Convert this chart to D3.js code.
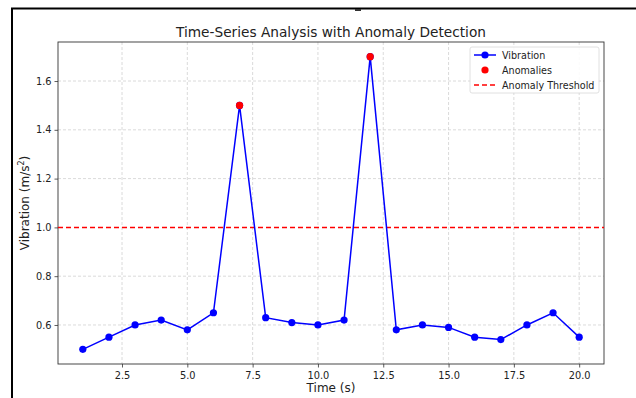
<!DOCTYPE html>
<html>
<head>
<meta charset="utf-8">
<script src="https://cdn.jsdelivr.net/npm/d3@7"></script>
<style>
  body { margin: 0; background: #fff; }
  svg { display: block; font-family: "DejaVu Sans", sans-serif; }
</style>
</head>
<body>
<svg id="chart" width="636" height="398"></svg>
<script>
// data
const times = [1, 2, 3, 4, 5, 6, 7, 8, 9, 10, 11, 12, 13, 14, 15, 16, 17, 18, 19, 20];
const vibration = [0.50, 0.55, 0.60, 0.62, 0.58, 0.65, 1.50, 0.63, 0.61, 0.60, 0.62, 1.70, 0.58, 0.60, 0.59, 0.55, 0.54, 0.60, 0.65, 0.55];
const threshold = 1.0;
const xTicks = [2.5, 5.0, 7.5, 10.0, 12.5, 15.0, 17.5, 20.0];
const yTicks = [0.6, 0.8, 1.0, 1.2, 1.4, 1.6];
const legendLabels = ['Vibration', 'Anomalies', 'Anomaly Threshold'];

const points = times.map((t, i) => ({ t, v: vibration[i] }));
const anomalies = points.filter(d => d.v > threshold);

const svg = d3.select('#chart');
const margin = { top: 42, right: 32, bottom: 34, left: 58 };
const W = 636, H = 398;

// outer frame (cropped figure edge)
svg.append('path')
  .attr('d', `M12,${H} L12,8.5 L${W},8.5`)
  .attr('fill', 'none')
  .attr('stroke', '#000')
  .attr('stroke-width', 2);
svg.append('rect').attr('x', 355).attr('y', 9).attr('width', 6).attr('height', 2).attr('fill', '#333');

const x = d3.scaleLinear().domain([0.05, 20.95]).range([margin.left, W - margin.right]);
const y = d3.scaleLinear().domain([0.44, 1.76]).range([H - margin.bottom, margin.top]);

// grid (no line under the threshold)
const grid = svg.append('g').attr('stroke', '#d0d0d0').attr('stroke-width', 0.8).attr('stroke-dasharray', '3,2');
grid.selectAll('.gx').data(xTicks).join('line')
  .attr('x1', d => x(d)).attr('x2', d => x(d))
  .attr('y1', margin.top).attr('y2', H - margin.bottom);
grid.selectAll('.gy').data(yTicks.filter(d => d !== threshold)).join('line')
  .attr('x1', margin.left).attr('x2', W - margin.right)
  .attr('y1', d => y(d)).attr('y2', d => y(d));

// axes
const xAxis = svg.append('g')
  .attr('transform', `translate(0,${H - margin.bottom})`)
  .call(d3.axisBottom(x).tickValues(xTicks).tickFormat(d3.format('.1f')).tickSize(3.5).tickSizeOuter(0));
const yAxis = svg.append('g')
  .attr('transform', `translate(${margin.left},0)`)
  .call(d3.axisLeft(y).tickValues(yTicks).tickFormat(d3.format('.1f')).tickSize(3.5).tickSizeOuter(0));
[xAxis, yAxis].forEach(a => {
  a.select('.domain').remove();
  a.selectAll('.tick line').attr('stroke', '#333').attr('stroke-width', 0.8);
  a.selectAll('.tick text').attr('font-size', 9.8).attr('fill', '#222').attr('font-family', '"DejaVu Sans", sans-serif');
});
xAxis.selectAll('.tick text').attr('dy', '0.85em');

// frame of plot area
svg.append('rect')
  .attr('x', margin.left).attr('y', margin.top)
  .attr('width', W - margin.right - margin.left)
  .attr('height', H - margin.bottom - margin.top)
  .attr('fill', 'none').attr('stroke', '#333').attr('stroke-width', 0.9);

// threshold
const ty = Math.round(y(threshold)) + 0.5;
svg.append('line')
  .attr('x1', margin.left).attr('x2', W - margin.right)
  .attr('y1', ty).attr('y2', ty)
  .attr('stroke', '#ff0000').attr('stroke-width', 1.5).attr('stroke-dasharray', '5,3');

// series
const line = d3.line().x(d => x(d.t)).y(d => y(d.v));
svg.append('path').datum(points)
  .attr('d', line)
  .attr('fill', 'none').attr('stroke', '#0000ff').attr('stroke-width', 1.5);
svg.append('g').selectAll('circle').data(points).join('circle')
  .attr('cx', d => x(d.t)).attr('cy', d => y(d.v)).attr('r', 3.6).attr('fill', '#0000ff');
svg.append('g').selectAll('circle').data(anomalies).join('circle')
  .attr('cx', d => x(d.t)).attr('cy', d => y(d.v)).attr('r', 3.6).attr('fill', '#ff0000');

// title & labels
svg.append('text').attr('x', (margin.left + W - margin.right) / 2).attr('y', 37)
  .attr('text-anchor', 'middle').attr('font-size', 13.7).attr('fill', '#222')
  .text('Time-Series Analysis with Anomaly Detection');
svg.append('text').attr('x', (margin.left + W - margin.right) / 2).attr('y', 392)
  .attr('text-anchor', 'middle').attr('font-size', 12).attr('fill', '#222')
  .text('Time (s)');
svg.append('text')
  .attr('transform', `translate(29,${(margin.top + H - margin.bottom) / 2}) rotate(-90)`)
  .attr('text-anchor', 'middle').attr('font-size', 12).attr('fill', '#222')
  .html('Vibration (m/s<tspan dy="-5" font-size="8">2</tspan><tspan dy="5">)</tspan>');

// legend
const lg = svg.append('g').attr('transform', 'translate(470,47)');
lg.append('rect').attr('width', 129).attr('height', 46).attr('rx', 2)
  .attr('fill', '#fff').attr('fill-opacity', 0.85).attr('stroke', '#d8d8d8').attr('stroke-width', 0.8);
const rows = lg.selectAll('g.row').data(legendLabels).join('g')
  .attr('transform', (d, i) => `translate(0,${8 + i * 15})`);
rows.append('text').attr('x', 32).attr('y', 3.5).attr('font-size', 9.6).attr('fill', '#222').text(d => d);
lg.append('line').attr('x1', 4).attr('x2', 26).attr('y1', 8).attr('y2', 8)
  .attr('stroke', '#0000ff').attr('stroke-width', 1.5);
lg.append('circle').attr('cx', 15).attr('cy', 8).attr('r', 3.6).attr('fill', '#0000ff');
lg.append('circle').attr('cx', 15).attr('cy', 23).attr('r', 3.6).attr('fill', '#ff0000');
lg.append('line').attr('x1', 4).attr('x2', 26).attr('y1', 38).attr('y2', 38)
  .attr('stroke', '#ff0000').attr('stroke-width', 1.5).attr('stroke-dasharray', '5,3');
</script>
</body>
</html>
